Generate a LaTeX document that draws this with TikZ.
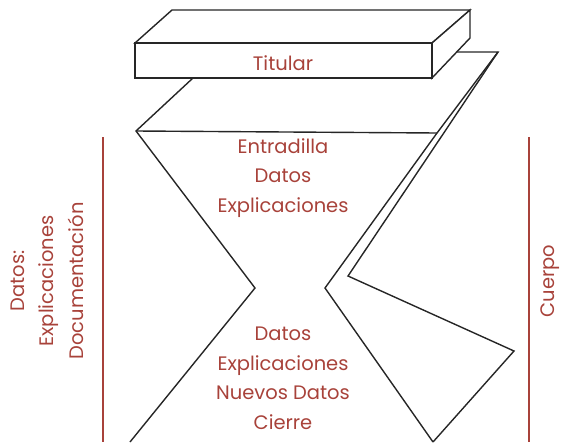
\documentclass[tikz,border=0pt]{standalone}
\usepackage{fontspec}
\setmainfont{Poppins}
\definecolor{rojizo}{RGB}{168,66,58}
\begin{document}
\begin{tikzpicture}[x=1pt,y=-1pt,
    trazo/.style={draw=black!85,line width=1.4pt,line join=miter},
    barra/.style={draw=rojizo,line width=1.4pt},
    rotulo/.style={text=rojizo,font=\fontsize{19.5}{29.5}\selectfont,align=center,inner sep=0pt}
    ]
\useasboundingbox (0,0) rectangle (562,442);
% hoja doblada
\coordinate (esqA) at (136,131);
\coordinate (esqB) at (437,133);
\coordinate (esqC) at (498,52);
\coordinate (cinturaL) at (255,288);
\coordinate (cinturaR) at (325,288);
\coordinate (plieg1) at (348,276);
\coordinate (plieg2) at (514,351);
\coordinate (pieL) at (130,442);
\coordinate (pieR) at (433,442);
\draw[trazo] (193,78) -- (esqA) -- (cinturaL) -- (pieL);
\draw[trazo] (esqA) -- (esqB);
\draw[trazo] (430,52) -- (esqC) -- (esqB) -- (cinturaR) -- (pieR);
\draw[trazo] (esqC) -- (plieg1) -- (plieg2) -- (pieR);
% caja del titular
\draw[trazo,fill=white] (135,43) -- (172,10) -- (470,10) -- (432,43) -- cycle;
\draw[trazo,fill=white] (432,43) -- (470,10) -- (470,38) -- (432,78) -- cycle;
\draw[trazo,fill=white] (135,43) rectangle (432,78);
% barras laterales
\draw[barra] (103,137) -- (103,442);
\draw[barra] (529,137) -- (529,442);
% textos
\node[rotulo] (titular) at (283,63) {Titular};
\node[rotulo] (entrada) at (283,178) {Entradilla\\Datos\\Explicaciones};
\node[rotulo] (cuerpo) at (283,378.5) {Datos\\Explicaciones\\Nuevos Datos\\Cierre};
\node[rotulo,rotate=90] (izq) at (47,281) {Datos:\\Explicaciones\\Documentación};
\node[rotulo,rotate=90] (der) at (550,281) {Cuerpo};
\end{tikzpicture}
\end{document}
